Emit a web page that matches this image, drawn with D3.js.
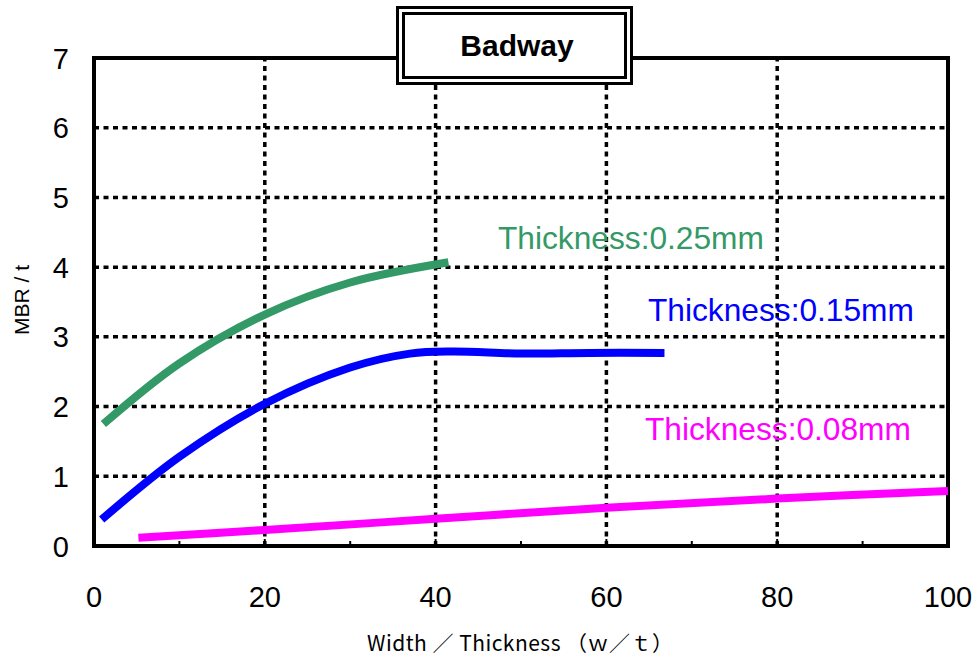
<!DOCTYPE html>
<html><head><meta charset="utf-8">
<script src="https://cdn.jsdelivr.net/npm/d3@7"></script>
<style>html,body{margin:0;padding:0;background:#fff;}</style>
</head><body>
<svg id="chart" width="979" height="658"></svg>
<script>
const xTicks = [0, 20, 40, 60, 80, 100];
const xMinorTicks = [10, 30, 50, 70, 90];
const yTicks = [0, 1, 2, 3, 4, 5, 6, 7];
const seriesNames = ["Thickness:0.25mm", "Thickness:0.15mm", "Thickness:0.08mm"];
const seriesColors = ["#339966", "#0000FF", "#FF00FF"];
const green025 = [[1.1,1.75],[10,2.62],[20,3.32],[30,3.78],[41.5,4.07]];
const blue015 = [[0.9,0.38],[10,1.28],[20,2.04],[30,2.56],[37,2.76],[42,2.79],[50,2.76],[58,2.77],[66.8,2.77]];
const magenta008 = [[5.2,0.12],[20,0.23],[40,0.39],[60,0.55],[80,0.68],[100,0.79]];
const seriesData = [green025, blue015, magenta008];
const titleText = "Badway";
const xLabel = "Width ／ Thickness （ｗ／ｔ）";
const yLabel = "MBR / t";

const svg = d3.select("#chart");
const L = 94, R = 948, T = 58, B = 546;
const x = d3.scaleLinear().domain([0, 100]).range([L, R]);
const y = d3.scaleLinear().domain([0, 7]).range([B, T]);
const font = "'Liberation Sans', Arial, sans-serif";

// grid
const grid = svg.append("g").attr("stroke", "#000").attr("stroke-width", 3.5).attr("stroke-dasharray", "5,4.5");
grid.selectAll(".gx").data(xTicks.slice(1)).join("line")
  .attr("x1", d => x(d)).attr("x2", d => x(d)).attr("y1", B).attr("y2", T);
grid.selectAll(".gy").data(yTicks.slice(1)).join("line")
  .attr("x1", L).attr("x2", R).attr("y1", d => y(d)).attr("y2", d => y(d));

// frame
svg.append("rect").attr("x", L).attr("y", T).attr("width", R - L).attr("height", B - T)
  .attr("fill", "none").attr("stroke", "#000").attr("stroke-width", 4);

// bottom ticks (inward)
svg.append("g").selectAll("line").data(xTicks).join("line")
  .attr("x1", d => x(d)).attr("x2", d => x(d)).attr("y1", B).attr("y2", B - 7)
  .attr("stroke", "#000").attr("stroke-width", 2);
svg.append("g").selectAll("line").data(xMinorTicks).join("line")
  .attr("x1", d => x(d)).attr("x2", d => x(d)).attr("y1", B).attr("y2", B - 5)
  .attr("stroke", "#000").attr("stroke-width", 2);

// tick labels
svg.append("g").selectAll("text").data(xTicks).join("text")
  .attr("x", d => x(d)).attr("y", 607).attr("text-anchor", "middle")
  .attr("font-family", font).attr("font-size", 29).text(d => d);
svg.append("g").selectAll("text").data(yTicks).join("text")
  .attr("x", 69).attr("y", d => y(d) + 10.5).attr("text-anchor", "end")
  .attr("font-family", font).attr("font-size", 29).text(d => d);

// lines
const line = d3.line().x(d => x(d[0])).y(d => y(d[1])).curve(d3.curveCatmullRom.alpha(0.5));
svg.append("g").selectAll("path").data(seriesData).join("path")
  .attr("d", d => line(d)).attr("fill", "none")
  .attr("stroke", (d, i) => seriesColors[i]).attr("stroke-width", 8);

// series labels
const labelPos = [[498, 249], [648, 321], [645, 440]];
svg.append("g").selectAll("text").data(seriesNames).join("text")
  .attr("x", (d, i) => labelPos[i][0]).attr("y", (d, i) => labelPos[i][1])
  .attr("fill", (d, i) => seriesColors[i])
  .attr("font-family", font).attr("font-size", 31.7).text(d => d);

// title box
svg.append("rect").attr("x", 397.5).attr("y", 7.5).attr("width", 234).attr("height", 76)
  .attr("fill", "#fff").attr("stroke", "#000").attr("stroke-width", 3);
svg.append("rect").attr("x", 403.5).attr("y", 13.5).attr("width", 222).attr("height", 64)
  .attr("fill", "#fff").attr("stroke", "#000").attr("stroke-width", 3);
svg.append("text").attr("x", 517).attr("y", 56).attr("text-anchor", "middle")
  .attr("font-family", font).attr("font-weight", "bold").attr("font-size", 30).text(titleText);

// axis labels
svg.append("text").attr("x", 367).attr("y", 651)
  .attr("textLength", 306).attr("lengthAdjust", "spacing")
  .attr("font-family", "'Noto Sans CJK JP', sans-serif").attr("font-size", 21).text(xLabel);
svg.append("text").attr("transform", "translate(29,300) rotate(-90)").attr("text-anchor", "middle")
  .attr("font-family", font).attr("font-size", 21).text(yLabel);
</script>
</body></html>
